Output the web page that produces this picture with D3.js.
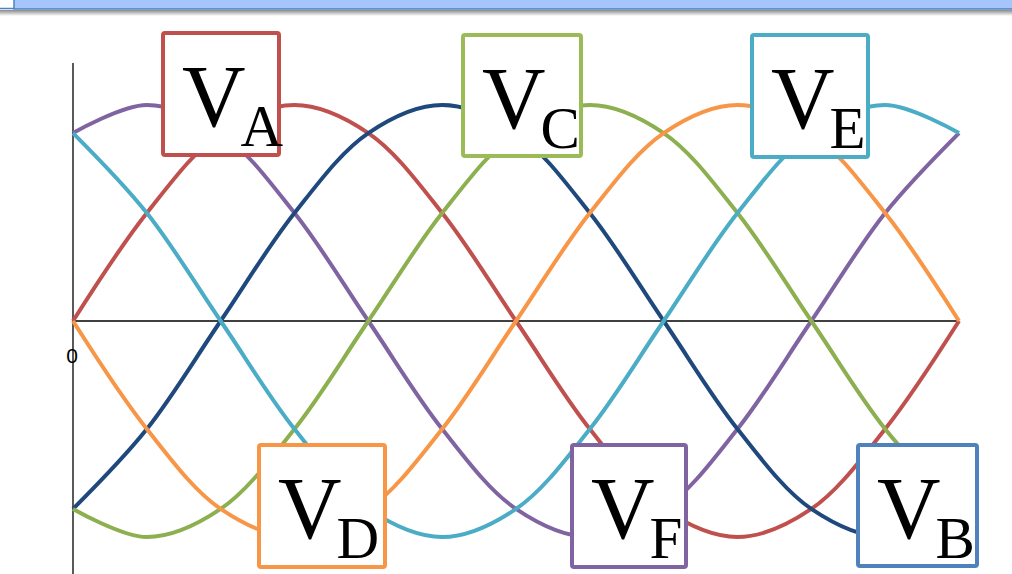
<!DOCTYPE html>
<html>
<head>
<meta charset="utf-8">
<script src="https://cdn.jsdelivr.net/npm/d3@7"></script>
<style>
  body { margin: 0; background: #fff; }
  svg { display: block; }
</style>
</head>
<body>
<script>
// phase angle samples (degrees) read along the x axis
const angles = [0, 30, 60, 90, 120, 150, 180, 210, 240, 270, 300, 330, 360];

// normalised voltages at each angle
const vA = [0, 0.5, 0.87, 1, 0.87, 0.5, 0, -0.5, -0.87, -1, -0.87, -0.5, 0];
const vB = [-0.87, -0.5, 0, 0.5, 0.87, 1, 0.87, 0.5, 0, -0.5, -0.87, -1, -0.87];
const vC = [-0.87, -1, -0.87, -0.5, 0, 0.5, 0.87, 1, 0.87, 0.5, 0, -0.5, -0.87];
const vD = [0, -0.5, -0.87, -1, -0.87, -0.5, 0, 0.5, 0.87, 1, 0.87, 0.5, 0];
const vE = [0.87, 0.5, 0, -0.5, -0.87, -1, -0.87, -0.5, 0, 0.5, 0.87, 1, 0.87];
const vF = [0.87, 1, 0.87, 0.5, 0, -0.5, -0.87, -1, -0.87, -0.5, 0, 0.5, 0.87];

const series = [
  {name: "F", values: vF, color: "#8064a2"},
  {name: "A", values: vA, color: "#c0504d"},
  {name: "B", values: vB, color: "#1f497d"},
  {name: "C", values: vC, color: "#8cb04f"},
  {name: "D", values: vD, color: "#f79646"},
  {name: "E", values: vE, color: "#4bacc6"}
];

// label boxes
const labels = [
  {sub: "A", color: "#c0504d", x0: 163, x1: 279, y0: 33, y1: 155},
  {sub: "C", color: "#9bbb59", x0: 463, x1: 581, y0: 35, y1: 156},
  {sub: "E", color: "#4bacc6", x0: 752, x1: 868, y0: 35, y1: 157},
  {sub: "D", color: "#f79646", x0: 259, x1: 385, y0: 445, y1: 567},
  {sub: "F", color: "#8064a2", x0: 572, x1: 686, y0: 445, y1: 567},
  {sub: "B", color: "#4f81bd", x0: 858, x1: 977, y0: 445, y1: 566}
];

const width = 1012, height = 574;

const svg = d3.select("body")
  .append("svg")
  .attr("width", width)
  .attr("height", height);

// title bar strip at the top
const defs = svg.append("defs");
const grad = defs.append("linearGradient")
  .attr("id", "shadow")
  .attr("x1", 0).attr("y1", 0).attr("x2", 0).attr("y2", 1);
grad.append("stop").attr("offset", "0%").attr("stop-color", "#8a8a8a");
grad.append("stop").attr("offset", "100%").attr("stop-color", "#ffffff");

svg.append("rect")
  .attr("x", 0).attr("y", 10)
  .attr("width", width).attr("height", 6)
  .attr("fill", "url(#shadow)");
svg.append("rect")
  .attr("x", 14).attr("y", -2)
  .attr("width", width).attr("height", 11)
  .attr("fill", "#a6c5fb")
  .attr("stroke", "#4f81bd")
  .attr("stroke-width", 1.5);
svg.append("line")
  .attr("x1", 0).attr("x2", 14)
  .attr("y1", 8.5).attr("y2", 8.5)
  .attr("stroke", "#4f81bd")
  .attr("stroke-width", 1.5);

const x = d3.scaleLinear()
  .domain([0, 360])
  .range([73, 959]);

const y = d3.scaleLinear()
  .domain([-1, 1])
  .range([537, 105]);

// axes
svg.append("line")
  .attr("x1", x(0)).attr("x2", x(0))
  .attr("y1", 63).attr("y2", height)
  .attr("stroke", "#000")
  .attr("stroke-width", 1.3);
svg.append("line")
  .attr("x1", x(0)).attr("x2", x(360))
  .attr("y1", y(0)).attr("y2", y(0))
  .attr("stroke", "#000")
  .attr("stroke-width", 1.3);

svg.append("text")
  .attr("x", x(0) - 1)
  .attr("y", y(0) + 42)
  .attr("text-anchor", "middle")
  .attr("font-family", "'Liberation Sans', Arial, sans-serif")
  .attr("font-size", 21)
  .text("0");

const line = d3.line()
  .x((d, i) => x(angles[i]))
  .y(d => y(d))
  .curve(d3.curveCatmullRom.alpha(0.5));

svg.append("g")
  .selectAll("path")
  .data(series)
  .join("path")
  .attr("fill", "none")
  .attr("stroke", d => d.color)
  .attr("stroke-width", 4)
  .attr("stroke-linejoin", "round")
  .attr("d", d => line(d.values));

// boxes with V_x labels
const box = svg.append("g")
  .selectAll("g")
  .data(labels)
  .join("g");

box.append("rect")
  .attr("x", d => d.x0)
  .attr("y", d => d.y0)
  .attr("width", d => d.x1 - d.x0)
  .attr("height", d => d.y1 - d.y0)
  .attr("rx", 2)
  .attr("fill", "#fff")
  .attr("stroke", d => d.color)
  .attr("stroke-width", 4);

const label = box.append("text")
  .attr("x", d => d.x0 + 19)
  .attr("y", d => d.y0 + 93)
  .attr("font-family", "'Liberation Serif', 'Times New Roman', serif")
  .attr("fill", "#000");
label.append("tspan")
  .attr("font-size", 88)
  .text("V");
label.append("tspan")
  .attr("font-size", 59)
  .attr("dx", -5)
  .attr("dy", 20)
  .text(d => d.sub);
</script>
</body>
</html>
